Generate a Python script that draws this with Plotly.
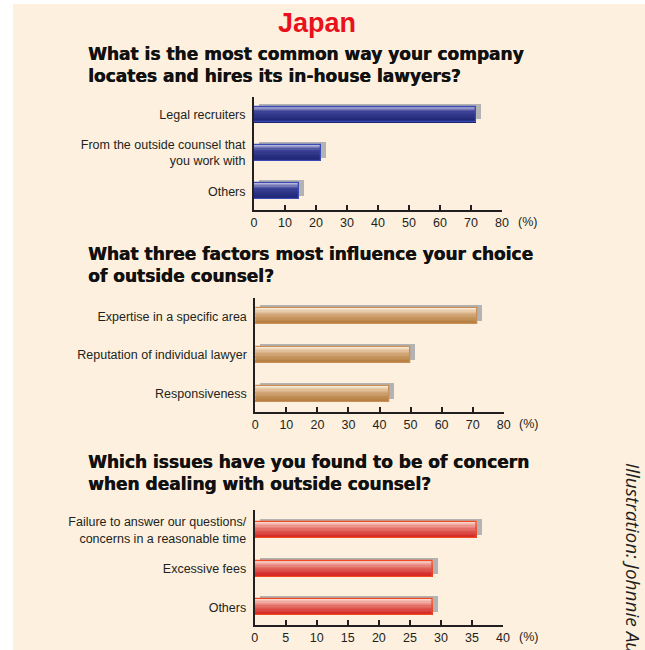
import plotly.graph_objects as go

# ---------------- data ----------------
title_main = "Japan"
q1_title = "What is the most common way your company<br>locates and hires its in-house lawyers?"
q1_labels = ["Legal recruiters", "From the outside counsel that<br>you work with", "Others"]
q1_values = [71.5, 21.5, 14.5]

q2_title = "What three factors most influence your choice<br>of outside counsel?"
q2_labels = ["Expertise in a specific area", "Reputation of individual lawyer", "Responsiveness"]
q2_values = [71.5, 50.0, 43.0]

q3_title = "Which issues have you found to be of concern<br>when dealing with outside counsel?"
q3_labels = ["Failure to answer our questions/<br>concerns in a reasonable time", "Excessive fees", "Others"]
q3_values = [35.7, 28.7, 28.7]

x1_ticks = [0, 10, 20, 30, 40, 50, 60, 70, 80]
x2_ticks = [0, 10, 20, 30, 40, 50, 60, 70, 80]
x3_ticks = [0, 5, 10, 15, 20, 25, 30, 35, 40]
credit = "Illustration: Johnnie Au"

# ---------------- style ----------------
W, H = 645, 650
CREAM = "#FDF0DE"
AXIS = "#231F20"
FONT = "Liberation Sans, Arial, sans-serif"
BAR_W = 0.415
N_STRIPES = 12

def px_x(p):
    return p / W

def px_y(p):
    return 1 - p / H

def hex2rgb(h):
    h = h.lstrip("#")
    return tuple(int(h[i:i + 2], 16) for i in (0, 2, 4))

def interp(stops, t):
    for (t0, c0), (t1, c1) in zip(stops[:-1], stops[1:]):
        if t0 <= t <= t1:
            f = (t - t0) / (t1 - t0) if t1 > t0 else 0
            a, b = hex2rgb(c0), hex2rgb(c1)
            return "rgb(%d,%d,%d)" % tuple(round(a[k] + (b[k] - a[k]) * f) for k in range(3))
    return stops[-1][1]

panels = [
    dict(labels=q1_labels, values=q1_values, ticks=x1_ticks, rng=[0, 80],
         xdom=[254, 502], ydom=[97, 210], yr=[2.487, -0.456],
         stops=[(0, "#c4c4e2"), (0.35, "#3c4296"), (1, "#1a2270")], outline="#3a4ab4",
         title=q1_title, title_y=65),
    dict(labels=q2_labels, values=q2_values, ticks=x2_ticks, rng=[0, 80],
         xdom=[255.3, 503.7], ydom=[298, 412], yr=[2.473, -0.473],
         stops=[(0, "#fbeedc"), (0.45, "#d2a676"), (1, "#b07838")], outline="#c89058",
         title=q2_title, title_y=265),
    dict(labels=q3_labels, values=q3_values, ticks=x3_ticks, rng=[0, 40],
         xdom=[254.7, 503], ydom=[510, 625], yr=[2.461, -0.518],
         stops=[(0, "#fbdcd4"), (0.45, "#e47068"), (1, "#d01c1c")], outline="#f04a20",
         title=q3_title, title_y=473),
]

fig = go.Figure()
annotations = []

for i, p in enumerate(panels):
    n = i + 1
    xa = "x" if n == 1 else "x%d" % n
    ya = "y" if n == 1 else "y%d" % n
    cats = list(range(len(p["values"])))
    span = p["rng"][1] - p["rng"][0]
    plot_w = p["xdom"][1] - p["xdom"][0]
    dx = 5 * span / plot_w                     # 5 px shadow shift to the right
    dy = 3 * (p["yr"][0] - p["yr"][1]) / (p["ydom"][1] - p["ydom"][0])  # 3 px up

    # shadow
    fig.add_trace(go.Bar(
        x=p["values"], y=[c - dy for c in cats], base=[dx] * len(cats),
        orientation="h", width=BAR_W, marker=dict(color="#B3B3B3", line=dict(width=0)),
        xaxis=xa, yaxis=ya, hoverinfo="skip", showlegend=False))
    # gradient stripes (top -> bottom)
    h = BAR_W / N_STRIPES
    for s in range(N_STRIPES):
        t = (s + 0.5) / N_STRIPES
        fig.add_trace(go.Bar(
            x=p["values"], y=cats, orientation="h", width=h * 1.08,
            offset=-BAR_W / 2 + s * h,
            marker=dict(color=interp(p["stops"], t), line=dict(width=0)),
            xaxis=xa, yaxis=ya, hoverinfo="skip", showlegend=False))
    # outline
    fig.add_trace(go.Bar(
        x=p["values"], y=cats, orientation="h", width=BAR_W,
        marker=dict(color="rgba(0,0,0,0)", line=dict(color=p["outline"], width=1.3)),
        xaxis=xa, yaxis=ya, hoverinfo="skip", showlegend=False))

    xkey = "xaxis" if n == 1 else "xaxis%d" % n
    ykey = "yaxis" if n == 1 else "yaxis%d" % n
    fig.update_layout(**{
        xkey: dict(domain=[px_x(p["xdom"][0]), px_x(p["xdom"][1])], range=p["rng"],
                   anchor=ya, tickvals=p["ticks"], ticks="inside", ticklen=5, tickwidth=1.5,
                   tickcolor=AXIS, showline=True, linecolor=AXIS, linewidth=2,
                   showgrid=False, zeroline=False, fixedrange=True, automargin=False,
                   tickfont=dict(family=FONT, size=12.5, color=AXIS)),
        ykey: dict(domain=[px_y(p["ydom"][1]), px_y(p["ydom"][0])], range=p["yr"],
                   anchor=xa, tickvals=cats, ticktext=p["labels"], ticks="",
                   showline=True, linecolor=AXIS, linewidth=2, showgrid=False,
                   zeroline=False, fixedrange=True, ticklabelstandoff=4, automargin=False,
                   tickfont=dict(family=FONT, size=12.5, color=AXIS)),
    })
    # (%) label
    annotations.append(dict(text="(%)", x=px_x(p["xdom"][1] + 25), y=px_y(p["ydom"][1] + 12),
                            xref="paper", yref="paper", showarrow=False,
                            xanchor="center", yanchor="middle",
                            font=dict(family=FONT, size=12.5, color=AXIS)))
    # question title
    annotations.append(dict(text="<b>%s</b>" % p["title"], x=px_x(86), y=px_y(p["title_y"]),
                            xref="paper", yref="paper", showarrow=False, align="left",
                            xanchor="left", yanchor="middle",
                            font=dict(family="DejaVu Sans, sans-serif", size=17, color="#111111",
                                      shadow="0.5px 0px 0px #111111")))

annotations.append(dict(text="<b>%s</b>" % title_main, x=px_x(317), y=px_y(23),
                        xref="paper", yref="paper", showarrow=False,
                        xanchor="center", yanchor="middle",
                        font=dict(family=FONT, size=27, color="#E8111C")))
annotations.append(dict(text="<i>%s</i>" % credit, x=px_x(633), y=px_y(461),
                        xref="paper", yref="paper", showarrow=False, textangle=90,
                        xanchor="center", yanchor="top",
                        font=dict(family="Open Sans, sans-serif", size=19, color="#231F20")))

fig.update_layout(
    width=W, height=H, autosize=False,
    margin=dict(l=0, r=0, t=0, b=0, pad=0, autoexpand=False),
    paper_bgcolor="white", plot_bgcolor="rgba(0,0,0,0)",
    barmode="overlay", bargap=0, showlegend=False,
    annotations=annotations,
    shapes=[dict(type="rect", xref="paper", yref="paper", x0=px_x(13), x1=1,
                 y0=0, y1=px_y(4), fillcolor=CREAM, line=dict(width=0), layer="below")],
)

post = (
    "document.documentElement.style.margin='0';"
    "document.documentElement.style.overflow='hidden';"
    "document.body.style.margin='0';"
    "document.body.style.overflow='hidden';"
)
fig.write_html("out.html", config={"displayModeBar": False, "responsive": False},
               post_script=post)
